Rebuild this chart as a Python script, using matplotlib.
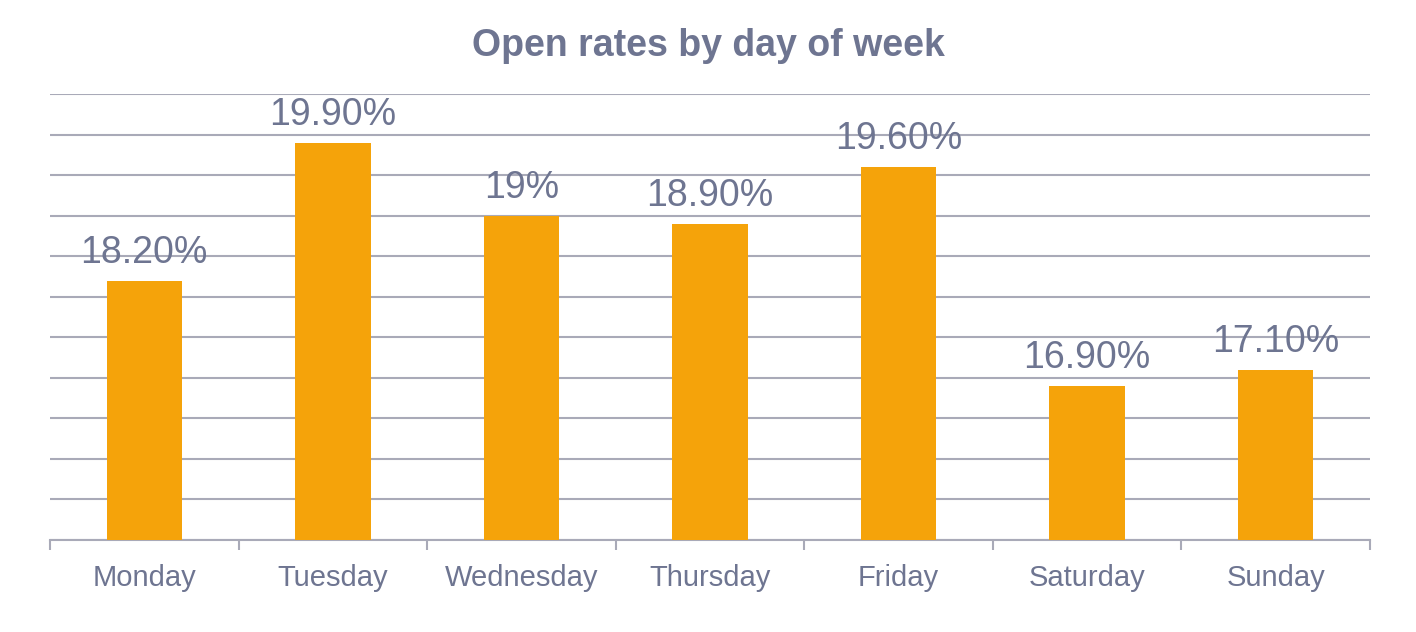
import numpy as np
import matplotlib
matplotlib.use('Agg')
from matplotlib import pyplot as plt

days = ['Monday', 'Tuesday', 'Wednesday', 'Thursday', 'Friday', 'Saturday', 'Sunday']
open_rates = [18.2, 19.9, 19.0, 18.9, 19.6, 16.9, 17.1]
rate_labels = ['18.20%', '19.90%', '19%', '18.90%', '19.60%', '16.90%', '17.10%']

text_col = '#6E7591'
bar_col = '#F5A30A'
grid_col = '#A9AAB8'

plt.rcParams['font.family'] = ['Liberation Sans', 'DejaVu Sans']

fig = plt.figure(figsize=(14.16, 6.32), dpi=100)
ax = fig.add_axes([50/1416, 92/632, 1320/1416, 446/632])

x = np.arange(len(days))
bars = ax.bar(x, open_rates, width=0.4, color=bar_col, zorder=3)

ax.set_ylim(15, 20.5)
ax.set_xlim(-0.5, len(days) - 0.5)
ax.set_yticks(np.arange(15, 20.51, 0.5))
ax.yaxis.grid(True, color=grid_col, linewidth=1.5, zorder=0)
ax.tick_params(axis='y', left=False, labelleft=False)

# category separators on the x axis
ax.set_xticks(np.arange(-0.5, len(days), 1.0), minor=False)
ax.set_xticklabels([])
ax.tick_params(axis='x', which='major', length=7, width=1.5, color=grid_col, direction='out')
ax.set_xticks(x, minor=True)
ax.set_xticklabels(days, minor=True, fontsize=21, color=text_col)
ax.tick_params(axis='x', which='minor', length=0, pad=17)

for side in ['top', 'right', 'left']:
    ax.spines[side].set_visible(False)
ax.spines['bottom'].set_color(grid_col)
ax.spines['bottom'].set_linewidth(1.5)

for b, lab in zip(bars, rate_labels):
    ax.annotate(lab, (b.get_x() + b.get_width() / 2, b.get_height()),
                xytext=(0, 7), textcoords='offset points',
                ha='center', va='bottom', fontsize=27, color=text_col)

fig.text(0.5, 1 - 46/632, 'Open rates by day of week', ha='center', va='center',
         fontsize=27, fontweight='bold', color=text_col)

fig.savefig('out.png', dpi=100)
